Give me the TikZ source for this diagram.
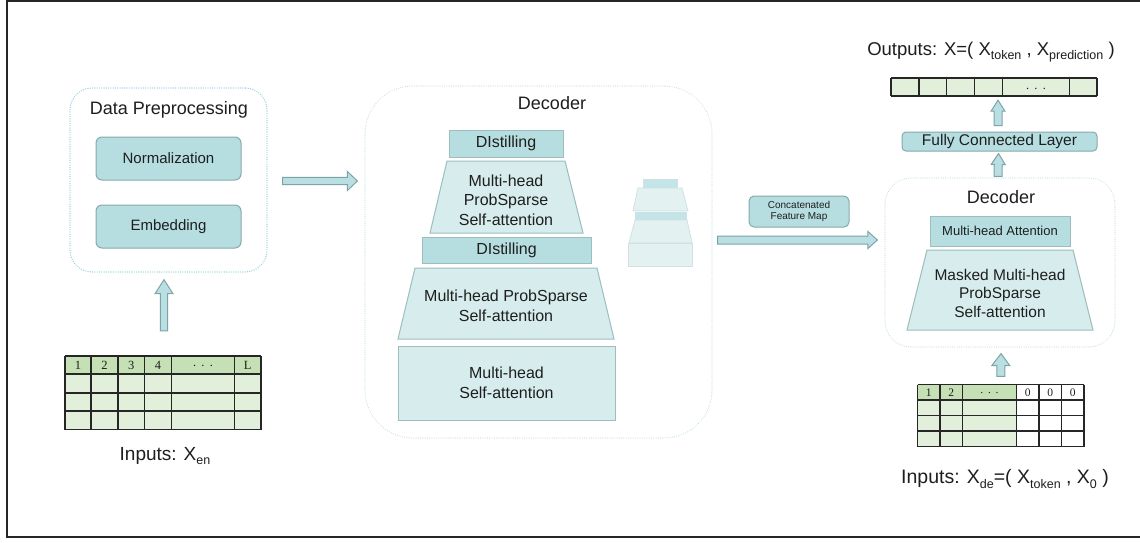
\documentclass[tikz,border=0pt]{standalone}
\usepackage{fontspec}
\setmainfont{Liberation Sans}
\newfontfamily\tabfont{Liberation Serif}
\usetikzlibrary{calc}
\definecolor{txt}{HTML}{1E1E1E}
\definecolor{dotblue}{HTML}{96D0DB}
\definecolor{lightdot}{HTML}{C3E0E5}
\definecolor{tealfill}{HTML}{B6DEE1}
\definecolor{tealborder}{HTML}{86A9AB}
\definecolor{trapfill}{HTML}{D7ECEC}
\definecolor{trapborder}{HTML}{9DBDBF}
\definecolor{fadefill}{HTML}{E3F1F1}
\definecolor{fadeteal}{HTML}{C4E5E7}
\definecolor{fadeborder}{HTML}{CFE2E3}
\definecolor{arrfill}{HTML}{B9DFE2}
\definecolor{arrborder}{HTML}{7EA4A7}
\definecolor{hdrgreen}{HTML}{C5E0B4}
\definecolor{cellgreen}{HTML}{E2EFDA}
\newcommand{\fsz}[2]{\fontsize{#1}{#2}\selectfont}
\newcommand{\lsub}[1]{\raisebox{-0.45ex}{\fsz{12.5}{12.5}#1}}
\newcommand{\blockarrow}[5]{%
  \coordinate (bah) at ($(#2)!#5!(#1)$);
  \draw[barrow] ($(#1)!#3!90:(#2)$) -- ($(bah)!#3!-90:(#1)$) -- ($(bah)!#4!-90:(#1)$) -- (#2)
    -- ($(bah)!#4!90:(#1)$) -- ($(bah)!#3!90:(#1)$) -- ($(#1)!#3!-90:(#2)$) -- cycle;}
\tikzset{
  every node/.style={text=txt, inner sep=0pt, align=center, font=\fsz{16}{19.5}},
  dotbox/.style={draw=dotblue, line width=1.4pt, dash pattern=on 0.01pt off 2.3pt, line cap=round, rounded corners=22pt},
  lightbox/.style={draw=lightdot, line width=1.2pt, dash pattern=on 0.01pt off 2.3pt, line cap=round},
  tealbox/.style={draw=tealborder, fill=tealfill, line width=1pt, rounded corners=6pt},
  distbox/.style={draw=trapborder, fill=tealfill, line width=1pt},
  trap/.style={draw=trapborder, fill=trapfill, line width=1pt},
  fadetrap/.style={draw=fadeborder, fill=fadefill, line width=0.8pt},
  faderect/.style={draw=fadeborder, fill=fadeteal, line width=0.8pt},
  barrow/.style={draw=arrborder, fill=arrfill, line width=1pt, line join=miter},
  grid/.style={draw=black!85, line width=1.2pt},
  hdr/.style={font=\tabfont\fsz{12.5}{12.5}},
}
\begin{document}
\begin{tikzpicture}[x=1pt, y=-1pt]
\useasboundingbox (0,0) rectangle (1140,542);
\fill[white] (0,0) rectangle (1140,542);
% outer frame
\draw[line width=2.2pt, black!85] (1150,1) -- (7,1) -- (7,537) -- (1150,537);

% ---------- Data preprocessing ----------
\node[dotbox, minimum width=197, minimum height=184] (dp) at (168.5,180) {};
\node[font=\fsz{18}{21}] (dptitle) at (169,110) {Data Preprocessing};
\node[tealbox, minimum width=145, minimum height=43, font=\fsz{15}{18}] (norm) at (168.5,158.5) {Normalization};
\node[tealbox, minimum width=145, minimum height=43, font=\fsz{15}{18}] (emb) at (168.5,226.5) {Embedding};

% ---------- Input table X_en ----------
\node[minimum width=196, minimum height=73.5] (xen) at (163,392.75) {};
\fill[hdrgreen] (65,356) rectangle (261,374);
\fill[cellgreen] (65,374) rectangle (261,429.5);
\foreach \x in {65,91,118,144.5,171.5,234.5,261} \draw[grid] (\x,356) -- (\x,429.5);
\foreach \y in {356,374,393,411,429.5} \draw[grid] (65,\y) -- (261,\y);
\foreach \t/\x [count=\i] in {1/78,2/104.5,3/131.2,4/158,.\ \,.\ \,./203,L/247.7}
  \node[hdr] (xenh\i) at (\x,365.5) {\t};
\node[font=\fsz{19}{22}] (xenlab) at (165,456) {Inputs: X\lsub{en}};

\coordinate (a1s) at ($(xen.north)+(1,-25)$);
\coordinate (a1e) at ($(dp.south)+(-4.5,7)$);
\blockarrow{a1s}{a1e}{3.6pt}{9pt}{14pt}

% ---------- Encoder stack (labelled Decoder) ----------
\node[lightbox, rounded corners=48pt, minimum width=347, minimum height=352] (enc) at (538.5,262) {};
\node[font=\fsz{18}{21}] (enctitle) at (552,103) {Decoder};
\coordinate (a2s) at ($(dp.east)+(15,1)$);
\coordinate (a2e) at ($(enc.west)+(-7,-81)$);
\blockarrow{a2s}{a2e}{3.6pt}{9.5pt}{10pt}

\node[distbox, minimum width=114, minimum height=27] (dist1) at (506,143.5) {DIstilling};
\draw[trap] (447,161) -- (565,161) -- (583,233) -- (430,233) -- cycle;
\node (mh1) at (506,200) {Multi-head\\ProbSparse\\Self-attention};
\node[distbox, minimum width=169, minimum height=26] (dist2) at (506.5,250) {DIstilling};
\draw[trap] (415,268) -- (597,268) -- (614,339) -- (398,339) -- cycle;
\node (mh2) at (506,306) {Multi-head ProbSparse\\Self-attention};
\node[trap, minimum width=217, minimum height=74] (mh3) at (506.5,383) {Multi-head\\Self-attention};

% faded small stack
\node[faderect, minimum width=34, minimum height=9] (s1) at (660,183.5) {};
\draw[fadetrap] (638,188) -- (682,188) -- (688,211) -- (633,211) -- cycle;
\node[faderect, minimum width=51, minimum height=8] (s2) at (660.5,216) {};
\draw[fadetrap] (635,220) -- (687,220) -- (692,243) -- (629,243) -- cycle;
\node[fadetrap, minimum width=64, minimum height=23] (s3) at (660.5,254.5) {};

% ---------- concatenated feature map ----------
\node[tealbox, rounded corners=5pt, minimum width=100, minimum height=31, font=\fsz{10}{11.6}] (cfm) at (799,211.5) {Concatenated\\Feature Map};

% ---------- Right decoder ----------
\node[lightbox, rounded corners=26pt, minimum width=230, minimum height=169] (dec) at (1000,262.5) {};
\node[font=\fsz{18}{21}] (dectitle) at (1001,197) {Decoder};
\node[distbox, minimum width=140, minimum height=30, font=\fsz{13}{15}] (mha) at (1000,231) {Multi-head Attention};
\draw[trap] (927,250) -- (1073,250) -- (1093,330) -- (907,330) -- cycle;
\node[font=\fsz{15.5}{18.3}] (mmh) at (1000,293.3) {Masked Multi-head\\ProbSparse\\Self-attention};

\coordinate (a3s) at ($(enc.east)+(5,-22)$);
\coordinate (a3e) at ($(dec.west)+(-7,-22.5)$);
\blockarrow{a3s}{a3e}{4pt}{8.5pt}{9.5pt}

% ---------- Input table X_de ----------
\node[minimum width=166.5, minimum height=62] (xde) at (1000.75,415.5) {};
\fill[hdrgreen] (917.5,384.5) rectangle (1016.5,400);
\fill[cellgreen] (917.5,400) rectangle (1016.5,446.5);
\foreach \x in {917.5,940,962.5,1016.5,1039,1061.5,1084} \draw[grid] (\x,384.5) -- (\x,446.5);
\foreach \y in {384.5,400,415.5,431,446.5} \draw[grid] (917.5,\y) -- (1084,\y);
\foreach \t/\x [count=\i] in {1/928.75,2/951.25,.\ \,.\ \,./989.5,0/1027.75,0/1050.25,0/1072.75}
  \node[hdr, font=\tabfont\fsz{11.5}{11.5}] (xdeh\i) at (\x,392.5) {\t};
\node[font=\fsz{19.5}{22}] (xdelab) at (1005,479) {Inputs: X\lsub{de}=( X\lsub{token} , X\lsub{0} )};

\coordinate (a4s) at ($(xde.north)+(0,-8)$);
\coordinate (a4e) at ($(dec.south)+(1,6)$);
\blockarrow{a4s}{a4e}{4pt}{9pt}{12pt}

% ---------- FC and outputs ----------
\node[tealbox, rounded corners=4pt, minimum width=195, minimum height=19, font=\fsz{15.5}{18}] (fc) at (999.5,141.5) {Fully Connected Layer};
\node[minimum width=206, minimum height=18] (outrow) at (994,87) {};
\fill[cellgreen] (891,78) rectangle (1097,96);
\foreach \x in {891,919,946.5,974.5,1002.5,1069.5,1097} \draw[grid] (\x,78) -- (\x,96);
\foreach \y in {78,96} \draw[grid] (891,\y) -- (1097,\y);
\node[hdr] (outdots) at (1036,89) {.\ \,.\ \,.};
\node[font=\fsz{18.5}{22}] (outlab) at (991,52) {Outputs: X=( X\lsub{token} , X\lsub{prediction} )};

\coordinate (a5s) at ($(dec.north)+(-2,-1)$);
\coordinate (a5e) at ($(fc.south)+(-1,2)$);
\blockarrow{a5s}{a5e}{4pt}{7pt}{11pt}
\coordinate (a6s) at ($(fc.north)+(-1.5,-6)$);
\coordinate (a6e) at ($(outrow.south)+(4,4)$);
\blockarrow{a6s}{a6e}{4pt}{7pt}{11pt}
\end{tikzpicture}
\end{document}
